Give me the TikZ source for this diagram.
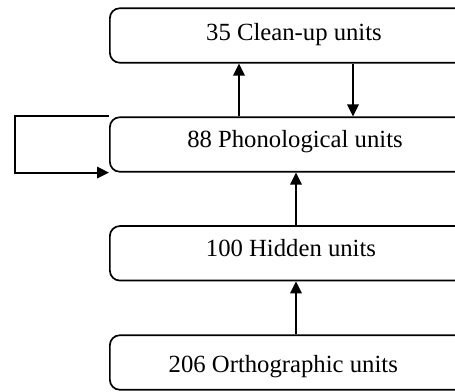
\documentclass[tikz,border=0pt]{standalone}
\usepackage{fontspec}
\setmainfont{Liberation Serif}
\usetikzlibrary{arrows.meta,calc}
\begin{document}
\begin{tikzpicture}[x=1pt,y=-1pt,
  unitbox/.style={draw, line width=1.7pt, rounded corners=10pt, minimum width=380pt, minimum height=54.5pt, anchor=west, inner sep=0pt},
  lbl/.style={anchor=base, inner sep=0pt, font=\fontsize{24.7}{28}\selectfont},
  arr/.style={line width=1.9pt, -{Triangle[length=12pt,width=11.5pt]}}]
\useasboundingbox (0,0) rectangle (455,391);
\clip (0,0) rectangle (455,391);
\node[unitbox] (b1) at (109,35.5) {};
\node[unitbox] (b2) at (109,144.5) {};
\node[unitbox] (b3) at (109,253.3) {};
\node[unitbox] (b4) at (109,362.5) {};
\node[lbl] (t1) at (294,40.7) {35 Clean-up units};
\node[lbl] (t2) at (295,147.7) {88 Phonological units};
\node[lbl] (t3) at (291,256.7) {100 Hidden units};
\node[lbl] (t4) at (283.3,372.7) {206 Orthographic units};
\draw[arr] ($(b2.north west)+(130,0)$) -- ($(b1.south west)+(130,0)$);
\draw[arr] ($(b1.south west)+(244,0)$) -- ($(b2.north west)+(244,0)$);
\draw[arr] ($(b3.north west)+(187,0)$) -- ($(b2.south west)+(187,0)$);
\draw[arr] ($(b4.north west)+(187,0)$) -- ($(b3.south west)+(187,0)$);
\draw[arr] (b2.north west) -- ++(-94,0) |- (b2.south west);
\end{tikzpicture}
\end{document}
